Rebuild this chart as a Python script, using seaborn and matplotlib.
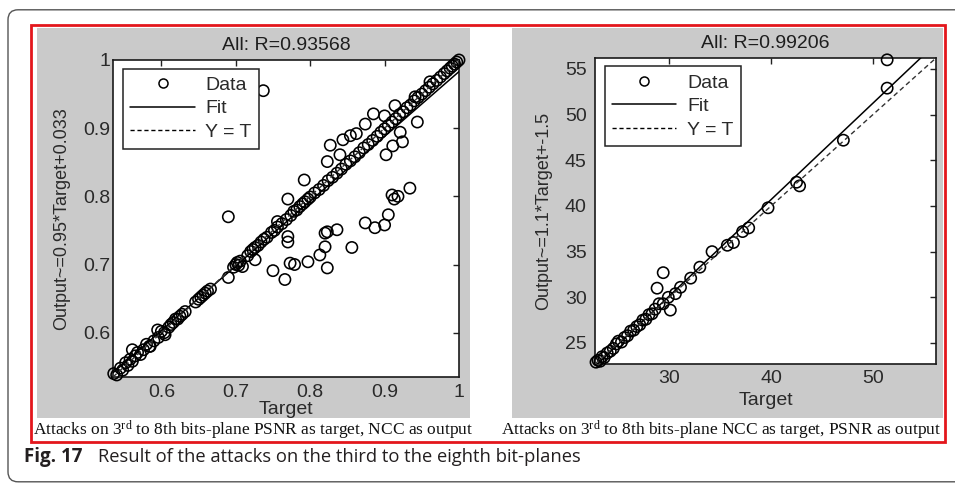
import matplotlib
matplotlib.use("Agg")
import numpy as np
import pandas as pd
import matplotlib.pyplot as plt
import seaborn as sns
from matplotlib.lines import Line2D
from matplotlib.patches import Rectangle, FancyBboxPatch

# ---------------- data ----------------
left_target = [
    0.536, 0.540, 0.545, 0.548, 0.552, 0.555, 0.558, 0.561, 0.565, 0.568,
    0.572, 0.576, 0.580, 0.584, 0.590, 0.596, 0.600, 0.604, 0.610, 0.613,
    0.616, 0.619, 0.622, 0.625, 0.628, 0.632, 0.646, 0.650, 0.653, 0.656,
    0.659, 0.662, 0.666, 0.690, 0.697, 0.700, 0.702, 0.704, 0.706, 0.709,
    0.716, 0.720, 0.723, 0.726, 0.730, 0.734, 0.738, 0.742, 0.748, 0.752,
    0.756, 0.762, 0.768, 0.774, 0.778, 0.782, 0.786, 0.790, 0.793, 0.797,
    0.800, 0.806, 0.812, 0.818, 0.824, 0.830, 0.836, 0.842, 0.848, 0.854,
    0.860, 0.866, 0.872, 0.878, 0.884, 0.890, 0.895, 0.900, 0.905, 0.910,
    0.915, 0.920, 0.925, 0.930, 0.935, 0.940, 0.945, 0.950, 0.955, 0.960,
    0.965, 0.970, 0.975, 0.980, 0.984, 0.988, 0.991, 0.994, 0.997, 1.000,
    # off-diagonal points
    0.737, 0.690, 0.770, 0.792, 0.827, 0.823, 0.840, 0.844, 0.854, 0.862,
    0.874, 0.885, 0.900, 0.914, 0.944, 0.921, 0.924, 0.911, 0.902, 0.934,
    0.910, 0.913, 0.918, 0.905, 0.900, 0.874, 0.887, 0.823, 0.836, 0.770,
    0.770, 0.750, 0.766, 0.773, 0.779, 0.797, 0.813, 0.820, 0.820, 0.823,
    0.856, 0.726, 0.595, 0.605, 0.585, 0.561, 0.756, 0.941, 0.961,
]
left_output = [
    0.540, 0.538, 0.548, 0.545, 0.556, 0.552, 0.561, 0.558, 0.566, 0.571,
    0.568, 0.575, 0.583, 0.580, 0.588, 0.593, 0.602, 0.600, 0.608, 0.612,
    0.615, 0.620, 0.620, 0.624, 0.627, 0.631, 0.645, 0.649, 0.652, 0.655,
    0.658, 0.661, 0.664, 0.681, 0.696, 0.700, 0.703, 0.699, 0.705, 0.697,
    0.713, 0.719, 0.722, 0.725, 0.728, 0.733, 0.737, 0.740, 0.747, 0.750,
    0.755, 0.760, 0.766, 0.772, 0.778, 0.780, 0.785, 0.789, 0.792, 0.796,
    0.799, 0.805, 0.810, 0.816, 0.823, 0.828, 0.834, 0.840, 0.847, 0.852,
    0.858, 0.864, 0.871, 0.876, 0.882, 0.888, 0.894, 0.899, 0.904, 0.909,
    0.914, 0.920, 0.924, 0.930, 0.934, 0.940, 0.945, 0.950, 0.955, 0.960,
    0.965, 0.970, 0.975, 0.980, 0.984, 0.988, 0.991, 0.994, 0.997, 1.000,
    # off-diagonal points
    0.955, 0.770, 0.796, 0.824, 0.875, 0.851, 0.861, 0.883, 0.889, 0.892,
    0.906, 0.921, 0.918, 0.933, 0.909, 0.894, 0.880, 0.874, 0.861, 0.812,
    0.802, 0.796, 0.800, 0.773, 0.758, 0.761, 0.754, 0.748, 0.751, 0.741,
    0.733, 0.691, 0.678, 0.702, 0.700, 0.704, 0.714, 0.726, 0.746, 0.695,
    0.725, 0.707, 0.604, 0.597, 0.580, 0.575, 0.763, 0.946, 0.968,
]

right_target = [
    22.8, 23.0, 23.2, 23.4, 23.6, 23.9, 24.2, 24.5, 24.8, 25.0,
    25.3, 25.6, 25.9, 26.2, 26.5, 26.8, 27.1, 27.4, 27.7, 28.0,
    28.3, 28.6, 29.0, 29.4, 29.9, 30.1, 30.6, 28.8, 29.4, 31.1,
    32.1, 33.0, 34.2, 35.7, 36.3, 37.2, 37.8, 39.7, 42.5, 42.8,
    47.1, 51.4, 51.4,
]
right_output = [
    22.9, 23.1, 23.0, 23.5, 23.4, 23.9, 24.1, 24.4, 24.9, 25.2,
    25.1, 25.6, 25.8, 26.3, 26.4, 26.8, 27.0, 27.5, 27.6, 28.1,
    28.2, 28.7, 29.3, 29.3, 30.0, 28.6, 30.4, 31.0, 32.7, 31.1,
    32.1, 33.3, 35.0, 35.7, 36.0, 37.2, 37.6, 39.8, 42.6, 42.2,
    47.2, 52.9, 56.0,
]

left_fit = (0.95, 0.033)     # slope, intercept
right_fit = (1.055, -1.5)

left_title = "All: R=0.93568"
right_title = "All: R=0.99206"
left_ylabel = "Output~=0.95*Target+0.033"
right_ylabel = "Output~=1.1*Target+-1.5"
xlabel = "Target"

left_lim = (0.535, 1.0)
right_lim = (22.7, 56.2)
left_ticks = [0.6, 0.7, 0.8, 0.9, 1.0]
left_ticklabels = ["0.6", "0.7", "0.8", "0.9", "1"]
right_xticks = [30, 40, 50]
right_yticks = [25, 30, 35, 40, 45, 50, 55]

legend_labels = ["Data", "Fit", "Y = T"]
left_caption = r"Attacks on 3$^{\mathrm{rd}}$ to 8th bits-plane PSNR as target, NCC as output"
right_caption = r"Attacks on 3$^{\mathrm{rd}}$ to 8th bits-plane NCC as target, PSNR as output"
fig_label = "Fig. 17"
fig_caption = "Result of the attacks on the third to the eighth bit-planes"

# ---------------- style ----------------
sns.set_style("white")
plt.rcParams["font.family"] = ["Liberation Sans", "DejaVu Sans"]
plt.rcParams["mathtext.fontset"] = "custom"
plt.rcParams["mathtext.rm"] = "Liberation Serif"
plt.rcParams["mathtext.it"] = "Liberation Serif:italic"
plt.rcParams["mathtext.bf"] = "Liberation Serif:bold"

W, H = 955, 483
fig = plt.figure(figsize=(W / 100, H / 100), dpi=100)
fig.patch.set_facecolor("white")

def fx(px):
    return px / W

def fy(py):
    return 1 - py / H

GRAY = "#cacaca"
TXT = "#2a2a2a"
# outer rounded frame
frame = FancyBboxPatch((0.08, 0.012), 10.2, 4.72,
                       boxstyle="round,pad=0,rounding_size=0.1",
                       transform=fig.dpi_scale_trans, fill=False,
                       edgecolor="#555555", linewidth=1.0, zorder=-3)
fig.patches.append(frame)
# gray panel backgrounds
fig.patches.append(Rectangle((fx(37), fy(418)), fx(433), 390 / H,
                             transform=fig.transFigure, facecolor=GRAY,
                             edgecolor="none", zorder=-2))
fig.patches.append(Rectangle((fx(512), fy(418)), fx(431), 390 / H,
                             transform=fig.transFigure, facecolor=GRAY,
                             edgecolor="none", zorder=-2))
# red frame
fig.patches.append(Rectangle((fx(31), fy(442)), fx(914), 417 / H,
                             transform=fig.transFigure, facecolor="none",
                             edgecolor="#e3161c", linewidth=2.0, zorder=5))

ax1 = fig.add_axes([fx(113), fy(377), fx(346), 317 / H])
ax2 = fig.add_axes([fx(595), fy(364), fx(341), 306 / H])
ax1.set_zorder(1)
ax2.set_zorder(1)


def draw_panel(ax, xs, ys, fit, lim, title, ylabel):
    df = pd.DataFrame({"Target": xs, "Output": ys})
    sns.scatterplot(data=df, x="Target", y="Output", ax=ax, marker="o", s=66,
                    facecolor="none", edgecolor="black", linewidth=1.15,
                    clip_on=False, zorder=3, legend=False)
    line_x = np.array(lim)
    fit_df = pd.DataFrame({"x": line_x, "y": fit[0] * line_x + fit[1]})
    sns.lineplot(data=fit_df, x="x", y="y", ax=ax, color="black", lw=1.1,
                 estimator=None, legend=False, zorder=4)
    yt_df = pd.DataFrame({"x": line_x, "y": line_x})
    sns.lineplot(data=yt_df, x="x", y="y", ax=ax, color="#333333", lw=1.0,
                 estimator=None, legend=False, zorder=4)
    ax.lines[-1].set_dashes((3.5, 2.4))
    ax.set_xlim(lim)
    ax.set_ylim(lim)
    ax.set_facecolor("white")
    for sp in ax.spines.values():
        sp.set_color("#1a1a1a")
        sp.set_linewidth(1.2)
        sp.set_visible(True)
    ax.set_title(title, fontsize=14, color="#1e1e1e", pad=7)
    ax.set_ylabel(ylabel, fontsize=13, color=TXT)
    ax.set_xlabel(xlabel, fontsize=14, color=TXT)
    ax.tick_params(direction="in", top=True, right=True, length=4, width=1,
                   color="#222222", labelcolor=TXT, labelsize=14)
    handles = [
        Line2D([], [], marker="o", ls="none", mfc="none", mec="black",
               ms=6.5, mew=1.1),
        Line2D([], [], color="black", lw=1.1),
        Line2D([], [], color="black", lw=1.0, dashes=(3, 2)),
    ]
    leg = ax.legend(handles, legend_labels, loc="upper left",
                    bbox_to_anchor=(0.028, 0.973), fontsize=14,
                    frameon=True, fancybox=False, edgecolor="#222222",
                    framealpha=1, handlelength=3.3, handletextpad=0.55,
                    labelspacing=0.3, borderpad=0.4, borderaxespad=0)
    leg.get_frame().set_linewidth(1.1)
    for t in leg.get_texts():
        t.set_color(TXT)


draw_panel(ax1, left_target, left_output, left_fit, left_lim, left_title, left_ylabel)
ax1.set_xticks(left_ticks, left_ticklabels)
ax1.set_yticks(left_ticks, left_ticklabels)
ax1.tick_params(axis="x", pad=5.0)
ax1.tick_params(axis="y", pad=2.0)
ax1.xaxis.labelpad = 0
ax1.yaxis.labelpad = 9

draw_panel(ax2, right_target, right_output, right_fit, right_lim, right_title, right_ylabel)
ax2.set_xticks(right_xticks)
ax2.set_yticks(right_yticks)
ax2.tick_params(axis="x", pad=4.5)
ax2.tick_params(axis="y", pad=6.0)
ax2.xaxis.labelpad = 3.5
ax2.yaxis.labelpad = 9

# panel captions (serif)
fig.text(fx(253), fy(430), left_caption, ha="center", va="center",
         fontsize=12.5, family="Liberation Serif", color="#111111", zorder=6)
fig.text(fx(721), fy(430), right_caption, ha="center", va="center",
         fontsize=12.5, family="Liberation Serif", color="#111111", zorder=6)

# figure caption
fig.text(fx(24), fy(457), fig_label, ha="left", va="center", fontsize=13.5,
         family="Open Sans", weight="bold", color="#231f20")
fig.text(fx(98), fy(457), fig_caption, ha="left", va="center", fontsize=13.2,
         family="Open Sans", color="#231f20")

fig.savefig("out.png", dpi=100, facecolor="white")
